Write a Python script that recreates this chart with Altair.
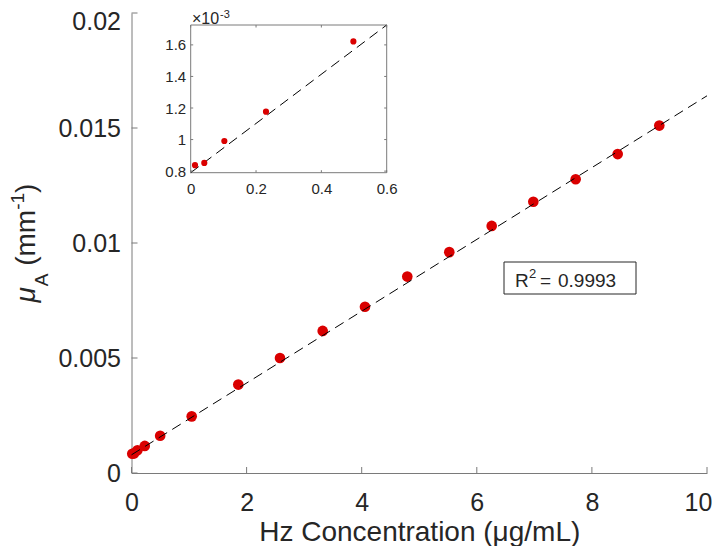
import altair as alt
import pandas as pd

# ---------------- data ----------------
conc = [0.0132, 0.0416, 0.103, 0.2305, 0.498, 1.046, 1.856, 2.58, 3.322,
        4.057, 4.792, 5.522, 6.259, 6.982, 7.718, 8.448, 9.171]
mu_a = [0.000838, 0.000852, 0.000991, 0.001177, 0.001622, 0.002462, 0.003844,
        0.004998, 0.006177, 0.007227, 0.00854, 0.009603, 0.010743, 0.011793,
        0.012773, 0.013866, 0.015106]
fit_x = [0.0, 10.0]
fit_y = [0.00079, 0.0164]
inset_fit_x = [0.0, 0.6]
inset_fit_y = [0.00079, 0.001726]
inset_count = 5
main_xticks = [0, 2, 4, 6, 8, 10]
main_yticks = [0, 0.005, 0.01, 0.015, 0.02]
inset_xticks = [0, 0.2, 0.4, 0.6]
inset_yticks = [0.0008, 0.001, 0.0012, 0.0014, 0.0016]
x_title = "Hz Concentration (μg/mL)"
r2_value = "0.9993"

# ---------------- style ----------------
W, H = 575.5, 460
FONT = "Liberation Sans"
TXT = "#262626"
AX = "#7a7a7a"
RED = "#da0000"

pts = pd.DataFrame({"x": conc, "y": mu_a})
ipts = pts.iloc[:inset_count]
fit = pd.DataFrame({"x": fit_x, "y": fit_y})
ifit = pd.DataFrame({"x": inset_fit_x, "y": inset_fit_y})
one = pd.DataFrame({"d": [0]})


def xs():
    return alt.Scale(domain=[0, 10], nice=False, zero=False)


def ys():
    return alt.Scale(domain=[0, 0.02], nice=False, zero=False)


x_axis = alt.Axis(orient="bottom", values=main_xticks, ticks=False, tickSize=0,
                  grid=False, domain=True, domainColor=AX, domainWidth=1,
                  labelFont=FONT, labelFontSize=25, labelColor=TXT,
                  labelPadding=17, labelFlush=False, labelOverlap=False,
                  labelOffset={"condition": {"test": "datum.value == 10", "value": -9},
                               "value": 0},
                  title=x_title, titleFont=FONT, titleFontSize=28,
                  titleFontWeight="normal", titleColor=TXT,
                  titleX=W / 2, titleY=67, titleAlign="center",
                  titleBaseline="alphabetic")
y_axis = alt.Axis(orient="left", values=main_yticks, ticks=False, tickSize=0,
                  grid=False, domain=True, domainColor=AX, domainWidth=1,
                  labelFont=FONT, labelFontSize=25, labelColor=TXT,
                  labelPadding=11, labelFlush=False, labelOverlap=False,
                  labelOffset={"condition": {"test": "datum.value == 0.02", "value": 8.5},
                               "value": 0},
                  labelExpr="toString(datum.value)", title=None)

main_line = alt.Chart(fit).mark_line(color="black", strokeWidth=1, strokeDash=[10, 6]).encode(
    x=alt.X("x:Q", scale=xs(), axis=None), y=alt.Y("y:Q", scale=ys(), axis=None))
main_pts = alt.Chart(pts).mark_circle(size=113, color=RED, opacity=1).encode(
    x=alt.X("x:Q", scale=xs(), axis=x_axis), y=alt.Y("y:Q", scale=ys(), axis=y_axis))
main_xt = alt.Chart(pd.DataFrame({"t": main_xticks})).mark_rule(color=AX).encode(
    x=alt.X("t:Q", scale=xs(), axis=None), y=alt.value(H), y2=alt.value(H - 6))
main_yt = alt.Chart(pd.DataFrame({"t": main_yticks})).mark_rule(color=AX).encode(
    y=alt.Y("t:Q", scale=ys(), axis=None), x=alt.value(0), x2=alt.value(6))

# R^2 box
r2_box = alt.Chart(one).mark_rect(fill="white", stroke=TXT, strokeWidth=1).encode(
    x=alt.value(372.5), x2=alt.value(504.5), y=alt.value(249), y2=alt.value(281))


def txt(s, x, y, size, angle=0, style="normal"):
    return alt.Chart(one).mark_text(text=s, font=FONT, fontSize=size, color=TXT,
                                    align="left", baseline="alphabetic",
                                    angle=angle, fontStyle=style).encode(
        x=alt.value(x), y=alt.value(y))


r2_parts = [txt("R", 383.5, 274, 19), txt("2", 397.5, 265, 13),
            txt("=", 408.5, 274, 19), txt(r2_value, 426.5, 274, 19)]

# y title: mu_A (mm^-1), rotated
ytitle = [txt("μ", -96.5, 289.4, 28, 270, "italic"),
          txt("A", -83.5, 273.3, 19, 270),
          txt("(mm", -96.5, 252.8, 28, 270),
          txt("-1", -107.5, 196.8, 19, 270),
          txt(")", -96.5, 179.9, 28, 270)]

# ---------------- inset ----------------
IX0, IX1 = 59.2, 255.2
IYB, IYT = 159.7, 12


def ixs():
    return alt.Scale(domain=inset_fit_x, range=[IX0, IX1], nice=False, zero=False)


def iys():
    return alt.Scale(domain=inset_fit_y, range=[IYB, IYT], nice=False, zero=False)


ix_axis = alt.Axis(orient="bottom", offset=-(H - IYB), values=inset_xticks,
                   domain=False, ticks=False, tickSize=0, grid=False,
                   labelFont=FONT, labelFontSize=15, labelColor=TXT, labelPadding=9,
                   labelFlush=False, labelOverlap=False,
                   labelExpr="toString(datum.value)", title=None)
iy_axis = alt.Axis(orient="left", offset=-IX0, values=inset_yticks,
                   domain=False, ticks=False, tickSize=0, grid=False,
                   labelFont=FONT, labelFontSize=15, labelColor=TXT, labelPadding=5,
                   labelFlush=False, labelOverlap=False,
                   labelExpr="toString(round(datum.value*10000)/10)", title=None)

ibox = alt.Chart(pd.DataFrame({"x0": [inset_fit_x[0]], "x1": [inset_fit_x[1]],
                               "y0": [inset_fit_y[0]], "y1": [inset_fit_y[1]]})).mark_rect(
    fill="white", stroke=AX, strokeWidth=1).encode(
    x=alt.X("x0:Q", scale=ixs(), axis=ix_axis), x2="x1:Q",
    y=alt.Y("y0:Q", scale=iys(), axis=iy_axis), y2="y1:Q")
iline = alt.Chart(ifit).mark_line(color="black", strokeWidth=1, strokeDash=[10, 6]).encode(
    x=alt.X("x:Q", scale=ixs(), axis=None), y=alt.Y("y:Q", scale=iys(), axis=None))
ipoints = alt.Chart(ipts).mark_circle(size=38, color=RED, opacity=1).encode(
    x=alt.X("x:Q", scale=ixs(), axis=None), y=alt.Y("y:Q", scale=iys(), axis=None))
ixt = pd.DataFrame({"t": inset_xticks})
iyt = pd.DataFrame({"t": inset_yticks})
TL = 2.5
i_ticks = [
    alt.Chart(ixt).mark_rule(color=AX).encode(x=alt.X("t:Q", scale=ixs(), axis=None),
                                               y=alt.value(IYB), y2=alt.value(IYB - TL)),
    alt.Chart(ixt).mark_rule(color=AX).encode(x=alt.X("t:Q", scale=ixs(), axis=None),
                                               y=alt.value(IYT), y2=alt.value(IYT + TL)),
    alt.Chart(iyt).mark_rule(color=AX).encode(y=alt.Y("t:Q", scale=iys(), axis=None),
                                               x=alt.value(IX0), x2=alt.value(IX0 + TL)),
    alt.Chart(iyt).mark_rule(color=AX).encode(y=alt.Y("t:Q", scale=iys(), axis=None),
                                               x=alt.value(IX1), x2=alt.value(IX1 - TL)),
]
iexp = [txt("×10", 60.5, 10.5, 16), txt("-3", 88.5, 4.5, 11)]

chart = alt.layer(
    main_pts, main_line, main_xt, main_yt, r2_box, *r2_parts, *ytitle,
    ibox, iline, ipoints, *i_ticks, *iexp
).resolve_scale(
    x="independent", y="independent"
).resolve_axis(
    x="independent", y="independent"
).properties(
    width=W, height=H,
    padding={"left": 123.5, "top": 5, "right": 5, "bottom": 73},
    autosize=alt.AutoSizeParams(type="none"),
).configure_view(stroke=None)

chart.save("out.html", embed_options={"renderer": "svg", "actions": False})
